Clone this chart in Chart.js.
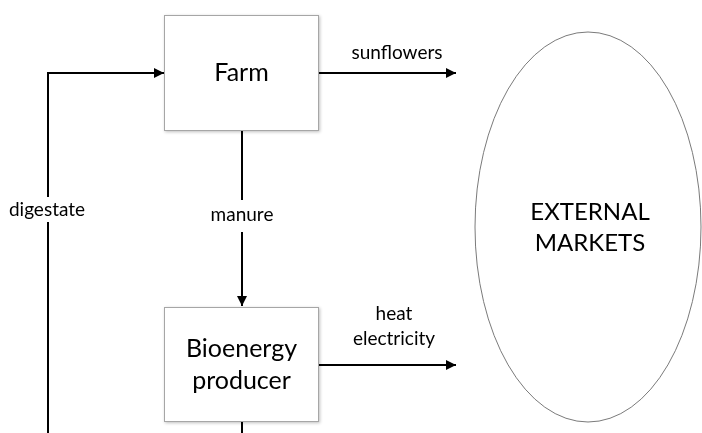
<!DOCTYPE html>
<html>
<head>
<meta charset="utf-8">
<script src="https://cdn.jsdelivr.net/npm/chart.js@4.4.1/dist/chart.umd.min.js"></script>
<style>
  body { margin: 0; background: #fff; }
  #wrap { width: 702px; height: 433px; }
</style>
</head>
<body>
<div id="wrap"><canvas id="flowChart" width="702" height="433"></canvas></div>
<script>
// nodes of the diagram (in diagram units, y grows downward)
const nodeNames = ['Farm', 'Bioenergy\nproducer'];
const nodeLeft = [164, 164];
const nodeRight = [319, 319];
const nodeTop = [15, 307];
const nodeBottom = [131, 422];

const marketName = 'EXTERNAL\nMARKETS';
const marketCenter = [588, 227];
const marketRadius = [113, 195];

// flows: polyline points, last point gets an arrowhead when arrow = true
const flowNames = ['digestate', 'manure', 'sunflowers', 'heat\nelectricity', 'tail'];
const flowPaths = [
    [[48, 433], [48, 73], [164, 73]],
    [[242, 131], [242, 306]],
    [[319, 73], [456, 73]],
    [[319, 365], [456, 365]],
    [[242, 422], [242, 433]]
];
const flowArrow = [true, true, true, true, false];
// label anchors + the gap the label cuts out of a vertical line
const flowLabelAt = [[47, 210], [242, 215], [397, 53], [394, 326], null];
const flowGap = [[197, 222], [200, 232], null, null, null];

document.addEventListener('DOMContentLoaded', function() {
    // split vertical lines around their labels
    const datasets = [];
    flowPaths.forEach(function(path, i) {
        let pts = path.map(p => ({x: p[0], y: p[1]}));
        const gap = flowGap[i];
        let parts = [pts];
        if (gap) {
            parts = [];
            let cur = [];
            for (let k = 0; k < pts.length; k++) {
                const p = pts[k];
                if (k > 0) {
                    const q = pts[k - 1];
                    if (q.x === p.x) {
                        const lo = Math.min(q.y, p.y), hi = Math.max(q.y, p.y);
                        if (gap[0] > lo && gap[1] < hi) {
                            const first = q.y > p.y ? gap[1] : gap[0];
                            const second = q.y > p.y ? gap[0] : gap[1];
                            cur.push({x: p.x, y: first});
                            parts.push(cur);
                            cur = [{x: p.x, y: second}];
                        }
                    }
                }
                cur.push(p);
            }
            parts.push(cur);
        }
        parts.forEach(function(part) {
            datasets.push({
                type: 'line',
                data: part,
                borderColor: '#000',
                borderWidth: 2,
                pointRadius: 0,
                tension: 0,
                fill: false
            });
        });
    });

    const diagramPlugin = {
        id: 'diagram',
        beforeDatasetsDraw(chart) {
            const ctx = chart.ctx;
            const xs = chart.scales.x, ys = chart.scales.y;
            ctx.save();
            // market ellipse
            const cx = xs.getPixelForValue(marketCenter[0]);
            const cy = ys.getPixelForValue(marketCenter[1]);
            const rx = xs.getPixelForValue(marketCenter[0] + marketRadius[0]) - cx;
            const ry = ys.getPixelForValue(marketCenter[1] + marketRadius[1]) - cy;
            ctx.beginPath();
            ctx.ellipse(cx, cy, Math.abs(rx), Math.abs(ry), 0, 0, Math.PI * 2);
            ctx.fillStyle = '#fff';
            ctx.fill();
            ctx.lineWidth = 1;
            ctx.strokeStyle = '#7a7a7a';
            ctx.stroke();
            ctx.restore();
        },
        afterDatasetsDraw(chart) {
            const ctx = chart.ctx;
            const xs = chart.scales.x, ys = chart.scales.y;
            const px = v => xs.getPixelForValue(v);
            const py = v => ys.getPixelForValue(v);

            // boxes
            nodeNames.forEach(function(name, i) {
                const l = px(nodeLeft[i]), r = px(nodeRight[i]);
                const t = py(nodeTop[i]), b = py(nodeBottom[i]);
                ctx.save();
                ctx.shadowColor = 'rgba(0,0,0,0.25)';
                ctx.shadowBlur = 3;
                ctx.shadowOffsetX = 1;
                ctx.shadowOffsetY = 1;
                ctx.fillStyle = '#fff';
                ctx.fillRect(l, t, r - l, b - t);
                ctx.restore();
                ctx.save();
                ctx.strokeStyle = '#a6a6a6';
                ctx.lineWidth = 1;
                ctx.strokeRect(l + 0.5, t + 0.5, r - l - 1, b - t - 1);
                ctx.fillStyle = '#000';
                ctx.font = '25px Lato, sans-serif';
                ctx.textAlign = 'center';
                ctx.textBaseline = 'middle';
                const lines = name.split('\n');
                const cx = (l + r) / 2, cy = (t + b) / 2;
                lines.forEach(function(line, k) {
                    ctx.fillText(line, cx, cy + (k - (lines.length - 1) / 2) * 32);
                });
                ctx.restore();
            });

            // arrowheads
            ctx.save();
            ctx.fillStyle = '#000';
            flowPaths.forEach(function(path, i) {
                if (!flowArrow[i]) return;
                const a = path[path.length - 2], b = path[path.length - 1];
                const tx = px(b[0]), ty = py(b[1]);
                const ang = Math.atan2(py(b[1]) - py(a[1]), px(b[0]) - px(a[0]));
                const len = 10, half = 5;
                ctx.beginPath();
                ctx.moveTo(tx, ty);
                ctx.lineTo(tx - len * Math.cos(ang) + half * Math.sin(ang), ty - len * Math.sin(ang) - half * Math.cos(ang));
                ctx.lineTo(tx - len * Math.cos(ang) - half * Math.sin(ang), ty - len * Math.sin(ang) + half * Math.cos(ang));
                ctx.closePath();
                ctx.fill();
            });
            ctx.restore();

            // flow labels
            ctx.save();
            ctx.fillStyle = '#000';
            ctx.font = '19px Lato, sans-serif';
            ctx.textAlign = 'center';
            ctx.textBaseline = 'middle';
            flowNames.forEach(function(name, i) {
                const at = flowLabelAt[i];
                if (!at) return;
                const lines = name.split('\n');
                lines.forEach(function(line, k) {
                    ctx.fillText(line, px(at[0]), py(at[1]) + (k - (lines.length - 1) / 2) * 25);
                });
            });
            ctx.restore();

            // market label
            ctx.save();
            ctx.fillStyle = '#000';
            ctx.font = '24px Lato, sans-serif';
            ctx.textAlign = 'center';
            ctx.textBaseline = 'middle';
            const mLines = marketName.split('\n');
            mLines.forEach(function(line, k) {
                ctx.fillText(line, px(marketCenter[0] + 2), py(228) + (k - (mLines.length - 1) / 2) * 31);
            });
            ctx.restore();
        }
    };

    const ctx = document.getElementById('flowChart').getContext('2d');
    new Chart(ctx, {
        type: 'scatter',
        data: { datasets: datasets },
        options: {
            responsive: false,
            animation: false,
            layout: { padding: 0 },
            plugins: { legend: { display: false }, tooltip: { enabled: false } },
            scales: {
                x: { type: 'linear', min: 0, max: 702, display: false },
                y: { type: 'linear', min: 0, max: 433, reverse: true, display: false }
            }
        },
        plugins: [diagramPlugin]
    });
});
</script>
</body>
</html>
